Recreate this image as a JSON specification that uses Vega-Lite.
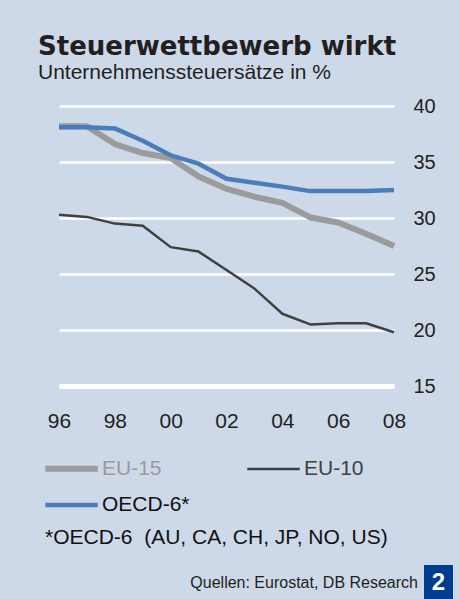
{
  "$schema": "https://vega.github.io/schema/vega-lite/v6.json",
  "width": 335,
  "height": 280,
  "autosize": {"type": "none"},
  "padding": {"left": 59, "top": 106, "right": 65, "bottom": 213},
  "background": "#cdd8e9",
  "config": {
    "view": {"stroke": null},
    "font": "Liberation Sans"
  },
  "title": {
    "text": "Steuerwettbewerb wirkt",
    "subtitle": "Unternehmenssteuersätze in %",
    "anchor": "start",
    "frame": "group",
    "dx": -21,
    "offset": 13,
    "font": "DejaVu Sans",
    "fontSize": 26,
    "fontWeight": "bold",
    "color": "#231f20",
    "subtitleFont": "Liberation Sans",
    "subtitleFontSize": 21,
    "subtitleColor": "#231f20",
    "subtitlePadding": 2
  },
  "layer": [
    {
      "data": {
        "values": [
          {"year": 1996, "series": "EU-15", "rate": 38.2},
          {"year": 1997, "series": "EU-15", "rate": 38.2},
          {"year": 1998, "series": "EU-15", "rate": 36.6},
          {"year": 1999, "series": "EU-15", "rate": 35.8},
          {"year": 2000, "series": "EU-15", "rate": 35.35},
          {"year": 2001, "series": "EU-15", "rate": 33.7},
          {"year": 2002, "series": "EU-15", "rate": 32.6},
          {"year": 2003, "series": "EU-15", "rate": 31.9},
          {"year": 2004, "series": "EU-15", "rate": 31.35},
          {"year": 2005, "series": "EU-15", "rate": 30.05},
          {"year": 2006, "series": "EU-15", "rate": 29.6},
          {"year": 2007, "series": "EU-15", "rate": 28.6},
          {"year": 2008, "series": "EU-15", "rate": 27.5},
          {"year": 1996, "series": "EU-10", "rate": 30.3},
          {"year": 1997, "series": "EU-10", "rate": 30.1},
          {"year": 1998, "series": "EU-10", "rate": 29.5},
          {"year": 1999, "series": "EU-10", "rate": 29.3},
          {"year": 2000, "series": "EU-10", "rate": 27.4},
          {"year": 2001, "series": "EU-10", "rate": 27.0},
          {"year": 2002, "series": "EU-10", "rate": 25.35},
          {"year": 2003, "series": "EU-10", "rate": 23.7},
          {"year": 2004, "series": "EU-10", "rate": 21.45},
          {"year": 2005, "series": "EU-10", "rate": 20.5},
          {"year": 2006, "series": "EU-10", "rate": 20.6},
          {"year": 2007, "series": "EU-10", "rate": 20.6},
          {"year": 2008, "series": "EU-10", "rate": 19.8},
          {"year": 1996, "series": "OECD-6*", "rate": 38.1},
          {"year": 1997, "series": "OECD-6*", "rate": 38.1},
          {"year": 1998, "series": "OECD-6*", "rate": 38.0},
          {"year": 1999, "series": "OECD-6*", "rate": 36.9},
          {"year": 2000, "series": "OECD-6*", "rate": 35.6},
          {"year": 2001, "series": "OECD-6*", "rate": 34.85},
          {"year": 2002, "series": "OECD-6*", "rate": 33.5},
          {"year": 2003, "series": "OECD-6*", "rate": 33.15},
          {"year": 2004, "series": "OECD-6*", "rate": 32.8},
          {"year": 2005, "series": "OECD-6*", "rate": 32.4},
          {"year": 2006, "series": "OECD-6*", "rate": 32.4},
          {"year": 2007, "series": "OECD-6*", "rate": 32.4},
          {"year": 2008, "series": "OECD-6*", "rate": 32.5}
        ]
      },
      "mark": {"type": "line", "strokeJoin": "round", "strokeCap": "butt"},
      "encoding": {
        "x": {
          "field": "year",
          "type": "quantitative",
          "scale": {"domain": [1996, 2008], "nice": false, "zero": false},
          "axis": {
            "values": [1996, 1998, 2000, 2002, 2004, 2006, 2008],
            "labelExpr": "substring(toString(datum.value), 2)",
            "title": null,
            "grid": false,
            "ticks": false,
            "tickSize": 0,
            "domain": true,
            "domainColor": "#ffffff",
            "domainWidth": 5,
            "labelFontSize": 21,
            "labelColor": "#231f20",
            "labelPadding": 24,
            "labelBaseline": "top",
            "labelFlush": false
          }
        },
        "y": {
          "field": "rate",
          "type": "quantitative",
          "scale": {"domain": [15, 40], "nice": false, "zero": false},
          "axis": {
            "orient": "right",
            "values": [15, 20, 25, 30, 35, 40],
            "title": null,
            "grid": true,
            "gridColor": "#ffffff",
            "gridWidth": 2.5,
            "gridOpacity": 1,
            "domain": false,
            "ticks": false,
            "tickSize": 0,
            "labelFontSize": 20,
            "labelColor": "#231f20",
            "labelPadding": 19,
            "labelAlign": "left"
          }
        },
        "color": {
          "field": "series",
          "type": "nominal",
          "title": "*OECD-6 \u00a0(AU, CA, CH, JP, NO, US)",
          "scale": {
            "domain": ["EU-15", "EU-10", "OECD-6*"],
            "range": ["#9b9b9b", "#404040", "#4a7ebb"]
          },
          "legend": {
            "orient": "none",
            "legendX": -14,
            "legendY": 349,
            "direction": "horizontal",
            "columns": 2,
            "columnPadding": 52,
            "rowPadding": 11,
            "symbolType": "M-2.5,0H2.5",
            "symbolSize": 441,
            "symbolOffset": 13,
            "labelFontSize": 21,
            "labelOffset": 17,
            "labelLimit": 300,
            "titleOrient": "bottom",
            "titleAnchor": "start",
            "titleFontSize": 21,
            "titleFontWeight": "normal",
            "titleColor": "#111111",
            "titleLimit": 500,
            "titlePadding": 12,
            "encode": {
              "labels": {
                "update": {
                  "fill": {"signal": "datum.label === 'EU-15' ? '#9b9b9b' : datum.label === 'EU-10' ? '#404040' : '#111111'"}
                }
              }
            }
          }
        },
        "strokeWidth": {
          "field": "series",
          "type": "nominal",
          "title": "*OECD-6 \u00a0(AU, CA, CH, JP, NO, US)",
          "scale": {
            "type": "ordinal",
            "domain": ["EU-15", "EU-10", "OECD-6*"],
            "range": [6, 2.5, 4.5]
          }
        }
      }
    },
    {
      "data": {"values": [{"figure": "2", "source": "Quellen: Eurostat, DB Research"}]},
      "layer": [
        {
          "mark": {
            "type": "text",
            "x": {"expr": "width + 24"},
            "y": {"expr": "height + 197"},
            "align": "right",
            "baseline": "middle",
            "fontSize": 16,
            "color": "#231f20"
          },
          "encoding": {"text": {"field": "source"}}
        },
        {
          "mark": {
            "type": "rect",
            "x": {"expr": "width + 30"},
            "x2": {"expr": "width + 59"},
            "y": {"expr": "height + 179"},
            "y2": {"expr": "height + 213"},
            "color": "#003c8f"
          },
          "encoding": {}
        },
        {
          "mark": {
            "type": "text",
            "x": {"expr": "width + 44.5"},
            "y": {"expr": "height + 197"},
            "align": "center",
            "baseline": "middle",
            "fontSize": 24,
            "fontWeight": "bold",
            "color": "#ffffff"
          },
          "encoding": {"text": {"field": "figure"}}
        }
      ]
    }
  ]
}
